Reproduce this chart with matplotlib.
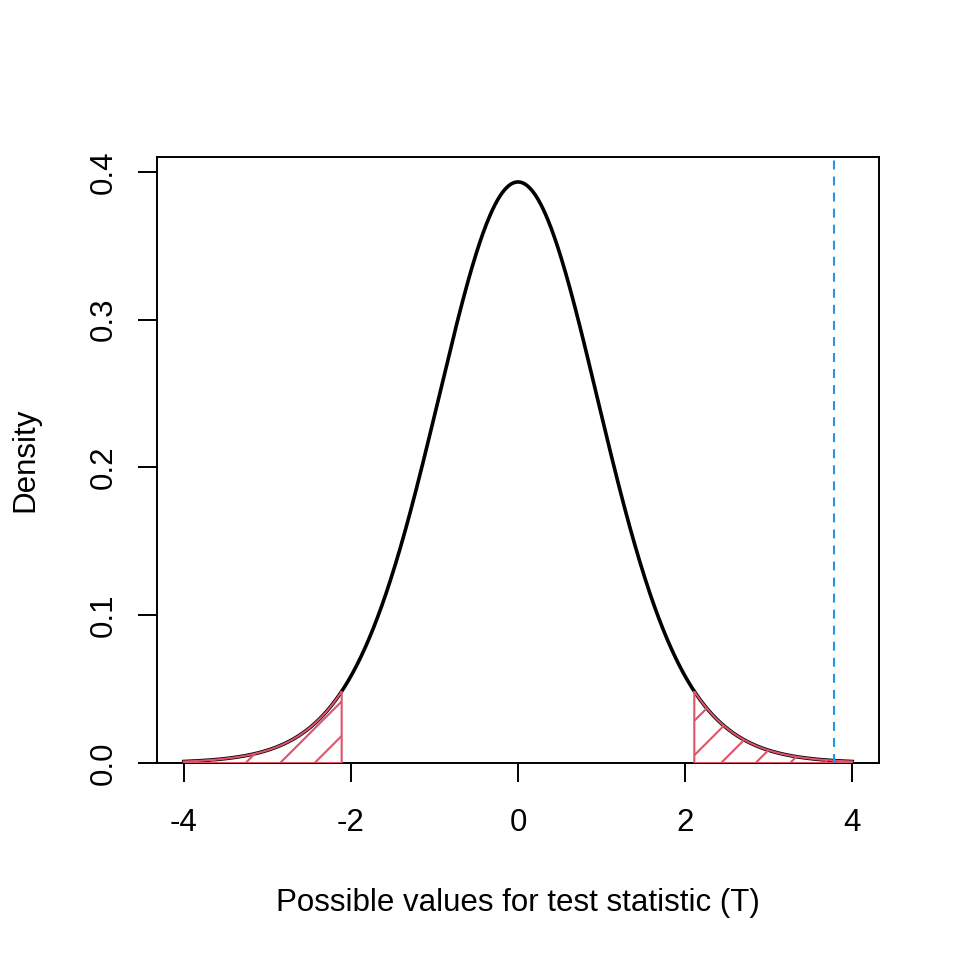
import math
import numpy as np
import matplotlib.pyplot as plt
from matplotlib.patches import Polygon

plt.rcParams['font.family'] = ['Liberation Sans', 'DejaVu Sans']

# t-verdeling met 17 vrijheidsgraden, tweezijdige toets op 5%
df = 17
t_crit = 2.11
t_obs = 3.78
x_lim = (-4, 4)
x_ticks = [-4, -2, 0, 2, 4]
y_ticks = [0.0, 0.1, 0.2, 0.3, 0.4]

pink = "#DF536B"
blue = "#2297E6"


def dt(x, k):
    c = math.exp(math.lgamma((k + 1) / 2) - math.lgamma(k / 2)) / math.sqrt(k * math.pi)
    return c * (1 + x**2 / k) ** (-(k + 1) / 2)


x = np.linspace(x_lim[0], x_lim[1], 801)
y = dt(x, df)

fig = plt.figure(figsize=(9.6, 9.6), dpi=100)
ax = fig.add_axes([157 / 960, 1 - 763 / 960, (879 - 157) / 960, (763 - 157) / 960])

ax.plot(x, y, color="black", lw=2.6, zorder=2)

ax.set_xlim(x_lim[0] - 0.04 * (x_lim[1] - x_lim[0]), x_lim[1] + 0.04 * (x_lim[1] - x_lim[0]))
ax.set_ylim(0, 0.41)

# arcering onder 45 graden (in pixels), zoals density= in R
px_x = 722 / (ax.get_xlim()[1] - ax.get_xlim()[0])
px_y = 606 / (ax.get_ylim()[1] - ax.get_ylim()[0])
slope = px_x / px_y
step = 34.5 / px_x

for a, b, start in [(x_lim[0], -t_crit, -3.26), (t_crit, x_lim[1], 2.43)]:
    xs = x[(x >= a) & (x <= b)]
    xs = np.concatenate([[a], xs, [b]])
    ys = dt(xs, df)
    verts = np.column_stack([np.concatenate([xs, [b, a]]), np.concatenate([ys, [0, 0]])])
    poly = Polygon(verts, closed=True, facecolor="none", edgecolor=pink, lw=1.5, zorder=3)
    ax.add_patch(poly)
    for c in start + step * np.arange(-15, 15):
        lx = np.array([c, c + 1])
        ln, = ax.plot(lx, (lx - c) * slope, color=pink, lw=1.5, zorder=3)
        ln.set_clip_path(poly)

ax.axvline(t_obs, color=blue, lw=1.5, ls=(0, (4.3, 3.4)), zorder=4)

ax.set_xticks(x_ticks)
ax.set_xticklabels([str(v) for v in x_ticks])
ax.set_yticks(y_ticks)
ax.set_yticklabels([f"{v:.1f}" for v in y_ticks], rotation=90, va="center")
ax.tick_params(length=13.5, width=1.4, labelsize=22.5)
ax.tick_params(axis="x", pad=19)
ax.tick_params(axis="y", pad=14)
for s in ax.spines.values():
    s.set_linewidth(1.4)

ax.set_xlabel("Possible values for test statistic (T)", fontsize=22.5, labelpad=36)
ax.set_ylabel("Density", fontsize=22.5, labelpad=35)

fig.savefig("out.png", dpi=100)
